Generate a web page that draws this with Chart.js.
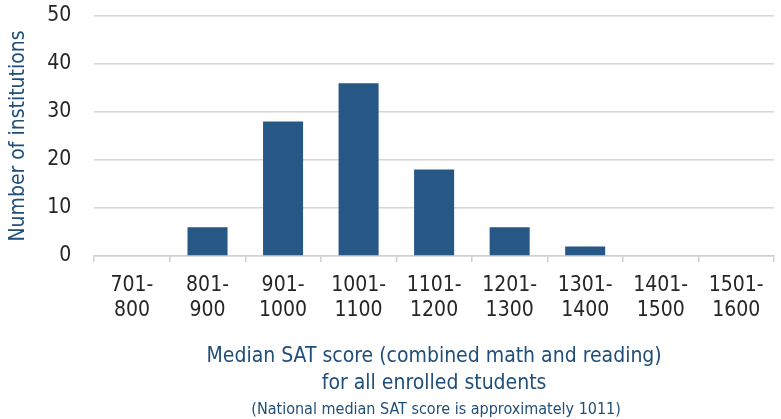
<!DOCTYPE html>
<html>
<head>
<meta charset="utf-8">
<script src="https://cdn.jsdelivr.net/npm/chart.js@4/dist/chart.umd.min.js"></script>
<style>
html,body{margin:0;padding:0;background:#fff;}
#wrap{width:781px;height:419px;}
</style>
</head>
<body>
<div id="wrap"><canvas id="c" width="781" height="419"></canvas></div>
<script>
const categories = [["701-","800"],["801-","900"],["901-","1000"],["1001-","1100"],["1101-","1200"],["1201-","1300"],["1301-","1400"],["1401-","1500"],["1501-","1600"]];
const institutions = [0, 6, 28, 36, 18, 6, 2, 0, 0];
const yTicks = [0, 10, 20, 30, 40, 50];
const xTitle = ["Median SAT score (combined math and reading)", "for all enrolled students"];
const yTitle = "Number of institutions";
const note = "(National median SAT score is approximately 1011)";

const FONT = "'Liberation Sans Narrow', 'DejaVu Sans Condensed', sans-serif";

// Center the bottom note under the plot area, like the x-axis title.
const alignNote = {
  id: 'alignNote',
  afterLayout(chart) {
    const xs = chart.scales.x;
    chart.boxes.forEach(b => {
      if (b.options && b.options.text === note) {
        b.left = xs.left + 2;
        b.right = xs.right + 2;
      }
    });
  }
};

new Chart(document.getElementById('c'), {
  type: 'bar',
  data: {
    labels: categories,
    datasets: [{
      data: institutions,
      backgroundColor: '#265785',
      barPercentage: 0.53,
      categoryPercentage: 1.0
    }]
  },
  options: {
    responsive: false,
    animation: false,
    layout: {padding: {top: 0, right: 7, left: 6, bottom: 0}},
    plugins: {
      legend: {display: false},
      tooltip: {enabled: false},
      subtitle: {
        display: true, position: 'bottom', text: note,
        color: '#1f4e79', font: {family: FONT, size: 16, lineHeight: 1.125}, padding: {top: 0, bottom: 0}
      }
    },
    scales: {
      x: {
        grid: {display: true, offset: true, drawOnChartArea: false, drawTicks: true, tickLength: 6, color: '#d0d0d0', lineWidth: 1.5},
        border: {display: true, color: '#d0d0d0', width: 1.5},
        ticks: {color: '#262626', font: {family: FONT, size: 21}, maxRotation: 0, autoSkip: false, padding: 11},
        title: {display: true, text: xTitle, color: '#1f4e79', font: {family: FONT, size: 21, lineHeight: 1.3}, padding: {top: 8, bottom: 4}}
      },
      y: {
        min: 0, max: 50,
        afterBuildTicks: (axis) => { axis.ticks = yTicks.map(v => ({value: v})); },
        afterFit: (scale) => { scale.paddingTop = 16; scale.width -= 7; },
        grid: {color: '#d6d6d6', lineWidth: 1.5, drawTicks: false},
        border: {display: false},
        ticks: {color: '#262626', font: {family: FONT, size: 21}, padding: 23},
        title: {display: true, text: yTitle, color: '#1f4e79', font: {family: FONT, size: 21}, padding: {top: 0, bottom: 0}}
      }
    }
  },
  plugins: [alignNote]
});
</script>
</body>
</html>
